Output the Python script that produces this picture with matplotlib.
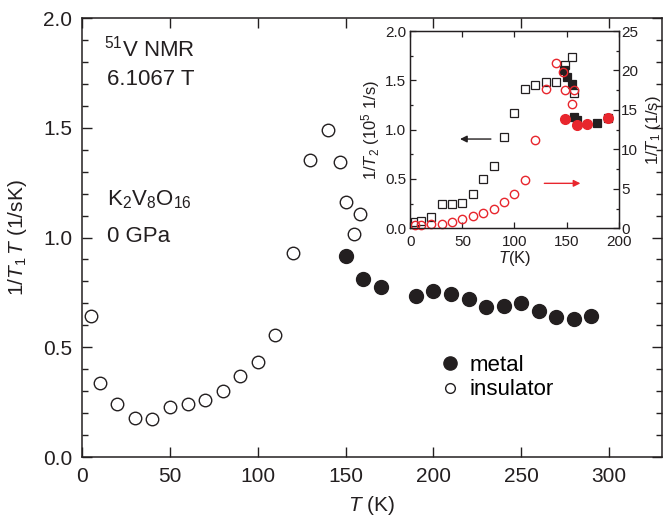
import matplotlib
matplotlib.use('Agg')
import matplotlib.pyplot as plt
from matplotlib.ticker import MultipleLocator
from matplotlib.lines import Line2D

plt.rcParams['font.family'] = ['Liberation Sans', 'DejaVu Sans']
plt.rcParams['mathtext.fontset'] = 'custom'
plt.rcParams['mathtext.rm'] = 'Liberation Sans'
plt.rcParams['mathtext.it'] = 'Liberation Sans:italic'
plt.rcParams['mathtext.default'] = 'regular'

INK = '#231f20'
RED = '#e8262d'

# 1/T1T, main panel
T_ins = [5, 10, 20, 30, 40, 50, 60, 70, 80, 90, 100, 110, 120, 130, 140, 147, 150, 155, 158]
r_ins = [0.642, 0.336, 0.241, 0.177, 0.174, 0.229, 0.241, 0.261, 0.302, 0.369, 0.433, 0.554,
         0.929, 1.355, 1.490, 1.342, 1.164, 1.014, 1.108]
T_met = [150, 160, 170, 190, 200, 210, 220, 230, 240, 250, 260, 270, 280, 290]
r_met = [0.918, 0.809, 0.775, 0.732, 0.757, 0.744, 0.718, 0.683, 0.690, 0.703, 0.665, 0.638, 0.627, 0.642]

# inset: 1/T2 (left axis) and 1/T1 (right axis)
T2_T_open = [4, 10.5, 20, 30, 40, 50, 60, 70, 80, 90, 100, 110, 120, 130, 140, 149, 155, 157]
T2_open = [0.067, 0.077, 0.118, 0.25, 0.25, 0.255, 0.348, 0.497, 0.635, 0.922, 1.172, 1.416,
           1.453, 1.486, 1.486, 1.655, 1.733, 1.375]
T2_T_fill = [148, 150, 155, 157, 160, 179, 190]
T2_fill = [1.60, 1.53, 1.463, 1.131, 1.10, 1.071, 1.12]
T1_T_open = [4, 10.5, 20, 30, 40, 50, 60, 70, 80, 90, 100, 110, 120, 130, 140, 147, 149, 155, 157]
T1_open = [0.42, 0.38, 0.55, 0.55, 0.76, 1.18, 1.52, 1.9, 2.45, 3.3, 4.39, 6.17, 11.2,
           17.7, 21.0, 19.8, 17.5, 15.8, 17.5]
T1_T_fill = [149, 160, 170, 190]
T1_fill = [13.9, 13.05, 13.18, 14.0]

fig = plt.figure(figsize=(6.63, 5.22), dpi=100)
ax = fig.add_axes([0.124, 0.1245, 0.874, 0.841])

ax.plot(T_ins, r_ins, 'o', ms=9, mfc='white', mec=INK, mew=1.0, clip_on=False)
ax.plot(T_met, r_met, 'o', ms=10, mfc=INK, mec=INK, mew=1.0, clip_on=False)

ax.set_xlim(0, 330)
ax.set_ylim(0, 2.0)
ax.yaxis.set_major_locator(MultipleLocator(0.5))
ax.yaxis.set_minor_locator(MultipleLocator(0.1))
ax.set_xticks([0, 50, 100, 150, 200, 250, 300])
ax.tick_params(which='both', direction='in', top=True, right=True, colors=INK,
               labelsize=15, width=1.0, pad=7)
ax.tick_params(which='major', length=7)
ax.tick_params(which='minor', length=4)
for s in ax.spines.values():
    s.set_linewidth(1.1)
    s.set_color(INK)

ax.set_xlabel(r'$\it{T}$ (K)', fontsize=15, labelpad=6, color=INK)
ax.set_ylabel(r'1/$\it{T}_{1}\,\it{T}$ (1/sK)', fontsize=15, labelpad=10, color=INK)

ax.text(12.5, 1.824, r'$^{51}$V NMR', fontsize=16, va='baseline', color=INK)
ax.text(14.2, 1.695, '6.1067 T', fontsize=16, va='baseline', color=INK)
ax.text(14.2, 1.148, r'K$_{2}$V$_{8}$O$_{16}$', fontsize=16, va='baseline', color=INK)
ax.text(14.2, 0.981, '0 GPa', fontsize=16, va='baseline', color=INK)

handles = [Line2D([], [], ls='none', marker='o', ms=9.5, mfc=INK, mec=INK),
           Line2D([], [], ls='none', marker='o', ms=7, mfc='white', mec=INK)]
ax.legend(handles, ['metal', 'insulator'], loc='upper left', bbox_to_anchor=(0.615, 0.232),
          frameon=False, fontsize=16, handletextpad=0.4, labelspacing=0.15,
          handlelength=1.0, borderaxespad=0, borderpad=0)

# inset
ins = fig.add_axes([0.619, 0.5626, 0.314, 0.378])
ins.plot(T2_T_open, T2_open, 's', ms=5.5, mfc='white', mec=INK, mew=0.9, clip_on=False)
ins.plot(T2_T_fill, T2_fill, 's', ms=6, mfc=INK, mec=INK, mew=0.9, clip_on=False)
ins.set_xlim(0, 200)
ins.set_ylim(0, 2.0)
ins.xaxis.set_major_locator(MultipleLocator(50))
ins.yaxis.set_major_locator(MultipleLocator(0.5))
ins.yaxis.set_minor_locator(MultipleLocator(0.25))
ins.tick_params(which='both', direction='in', top=True, colors=INK, labelsize=11, width=0.9, pad=3)
ins.tick_params(axis='x', pad=5)
ins.tick_params(which='major', length=4)
ins.tick_params(which='minor', length=2.5)
ins.set_xlabel(r'$\it{T}$(K)', fontsize=12, labelpad=0, color=INK)
ins.set_ylabel(r'1/$\it{T}_{2}$ (10$^{5}$ 1/s)', fontsize=12, labelpad=2, color=INK)

ins2 = ins.twinx()
ins2.plot(T1_T_open, T1_open, 'o', ms=6, mfc='none', mec=RED, mew=1.0, clip_on=False)
ins2.plot(T1_T_fill, T1_fill, 'o', ms=7, mfc=RED, mec=RED, mew=1.0, clip_on=False)
ins2.set_ylim(0, 25)
ins2.yaxis.set_major_locator(MultipleLocator(5))
ins2.yaxis.set_minor_locator(MultipleLocator(2.5))
ins2.tick_params(which='both', direction='in', colors=INK, labelsize=11, width=0.9, pad=2)
ins2.tick_params(which='major', length=4)
ins2.tick_params(which='minor', length=2.5)
ins2.set_ylabel(r'1/$\it{T}_{1}$ (1/s)', fontsize=12, labelpad=4, color=INK, rotation=90)
for a in (ins, ins2):
    for s in a.spines.values():
        s.set_linewidth(0.9)
        s.set_color(INK)

ins.annotate('', xy=(45, 0.905), xytext=(80, 0.905),
             arrowprops=dict(arrowstyle='-|>', color=INK, lw=1.0, mutation_scale=10))
ins.annotate('', xy=(166, 0.456), xytext=(126, 0.456),
             arrowprops=dict(arrowstyle='-|>', color=RED, lw=1.0, mutation_scale=10))

fig.savefig('out.png', dpi=100)
